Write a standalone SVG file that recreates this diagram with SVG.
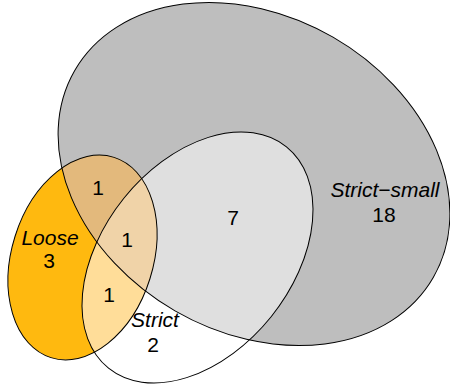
<svg xmlns="http://www.w3.org/2000/svg" width="450" height="387" viewBox="0 0 450 387">
<style>
.lbl{font-family:"Liberation Sans",Arial,sans-serif;font-size:21px;fill:#000;text-anchor:middle}
.it{font-style:italic}
.out{fill:none;stroke:#000;stroke-width:1}
</style>
<defs>
<ellipse id="eBig" cx="254" cy="174" rx="207" ry="158" transform="rotate(30 254 174)"/>
<ellipse id="eStrict" cx="197.5" cy="257.5" rx="94.5" ry="142" transform="rotate(38.8 197.5 257.5)"/>
<ellipse id="eLoose" cx="82.5" cy="257.5" rx="70.7" ry="105" transform="rotate(17.5 82.5 257.5)"/>
<clipPath id="cLoose"><use href="#eLoose"/></clipPath>
<clipPath id="cStrict"><use href="#eStrict"/></clipPath>
<clipPath id="cBig"><use href="#eBig"/></clipPath>
</defs>
<rect width="450" height="387" fill="#fff"/>
<g id="strict-small">
<use href="#eBig" fill="#bebebe"/>
</g>
<g id="strict">
<use href="#eStrict" fill="#fff" fill-opacity="0.5"/>
</g>
<g id="loose">
<use href="#eLoose" fill="#ffb90f"/>
<g clip-path="url(#cLoose)">
<use href="#eBig" fill="#e3b97c"/>
<use href="#eStrict" fill="#ffdd99"/>
<g clip-path="url(#cStrict)"><use href="#eBig" fill="#f0d3a8"/></g>
</g>
</g>
<g id="outlines">
<use href="#eBig" class="out"/>
<use href="#eStrict" class="out"/>
<use href="#eLoose" class="out"/>
</g>
<g id="labels">
<text class="lbl it" x="385" y="197">Strict−small</text>
<text class="lbl" x="384" y="222">18</text>
<text class="lbl" x="233" y="225">7</text>
<text class="lbl" x="98" y="195">1</text>
<text class="lbl" x="127" y="247">1</text>
<text class="lbl" x="109" y="302">1</text>
<text class="lbl it" x="155" y="327">Strict</text>
<text class="lbl" x="153" y="352">2</text>
<text class="lbl it" x="50" y="245">Loose</text>
<text class="lbl" x="49" y="268">3</text>
</g>
</svg>
